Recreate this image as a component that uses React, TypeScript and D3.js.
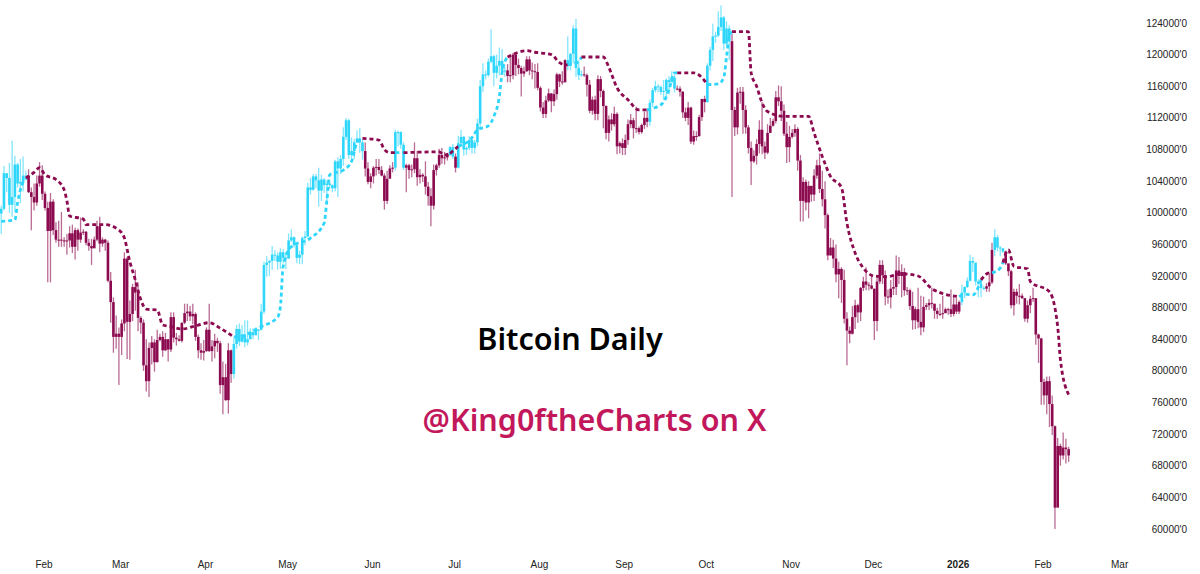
import React from 'react';
import * as d3 from 'd3';

const width = 1200;
const height = 574;

// daily candles, in thousands of dollars, first row starts on 16 Jan 2025
const firstDay = new Date(Date.UTC(2025, 0, 16));
const firstOpen = 99.9;

const closes = [
  100.5, 105.0, 104.4, 101.0, 102.0, 106.1, 103.7, 103.9, 104.7, 104.7, 102.6, 102.0, 101.3, 103.7, 104.7, 102.4,
  100.6, 97.7, 101.4, 97.8, 96.6, 96.6, 96.5, 96.5, 96.5, 97.4, 95.7, 97.8, 96.6, 97.5, 97.6, 96.2, 95.8, 95.5, 96.6, 98.3, 96.1, 96.6, 96.2, 91.4, 88.7, 84.3, 84.7, 84.3,
  86.0, 94.2, 86.2, 87.2, 90.6, 89.9, 86.7, 86.1, 80.7, 78.7, 82.9, 83.6, 81.1, 83.9, 84.3, 82.6, 84.0, 82.7, 86.8, 84.2, 84.0, 83.8, 86.1, 87.3, 87.5, 86.9, 87.2, 84.3, 82.6, 82.3, 82.5,
  85.2, 82.5, 83.1, 83.8, 83.5, 78.2, 79.2, 76.3, 82.6, 79.6, 83.4, 85.3, 83.7, 84.6, 83.6, 84.0, 84.9, 84.5, 85.1, 85.2, 87.5, 93.4, 93.7, 93.9, 94.7, 94.6, 93.8, 95.0, 94.3, 94.2,
  96.5, 96.9, 95.9, 94.3, 94.7, 96.8, 97.0, 103.2, 102.9, 104.6, 104.1, 102.8, 104.2, 103.5, 103.7, 103.5, 103.1, 106.5, 105.6, 106.8, 109.6, 111.7, 107.3, 107.8, 108.9, 109.4, 108.9, 107.8, 105.6, 103.9, 104.6,
  105.7, 105.8, 105.4, 104.7, 101.5, 104.3, 105.6, 105.7, 110.2, 110.2, 108.6, 105.7, 106.0, 105.4, 105.5, 106.9, 104.5, 104.8, 104.6, 103.3, 102.1, 100.9, 105.4, 106.0, 107.3, 106.9, 107.0, 107.3, 108.3, 107.1,
  105.7, 108.8, 109.6, 108.0, 108.2, 109.2, 108.2, 108.9, 111.3, 116.0, 117.5, 117.4, 119.1, 119.8, 117.7, 118.6, 119.2, 117.9, 118.0, 117.3, 117.4, 120.0, 118.7, 118.3, 117.6, 117.9, 119.4, 118.0, 117.9, 117.8, 115.8,
  113.3, 112.5, 114.2, 115.1, 114.1, 115.0, 117.5, 116.6, 116.5, 119.3, 118.7, 120.1, 123.3, 118.3, 117.4, 117.5, 117.4, 116.2, 112.9, 114.3, 112.5, 116.9, 115.4, 113.5, 110.1, 111.8, 111.2, 112.5, 108.4, 108.8, 108.2,
  109.2, 111.2, 111.7, 110.7, 110.7, 110.2, 111.1, 112.0, 111.5, 113.9, 115.5, 116.0, 115.9, 115.3, 115.4, 116.8, 116.5, 117.1, 115.7, 115.7, 115.3, 112.7, 112.0, 113.3, 109.0, 109.7, 109.7, 112.1, 114.4, 114.0,
  118.6, 120.6, 122.3, 122.4, 123.5, 124.7, 121.4, 123.3, 121.7, 113.0, 110.8, 115.2, 115.3, 113.0, 110.8, 108.2, 106.5, 107.2, 108.7, 110.5, 108.4, 107.6, 110.1, 111.0, 111.6, 114.6, 114.1, 112.9, 110.0, 108.3, 109.6,
  110.1, 110.6, 106.6, 101.5, 103.9, 101.3, 103.4, 102.3, 104.7, 106.0, 103.0, 101.7, 99.7, 94.6, 95.6, 94.2, 92.2, 92.9, 91.5, 86.6, 85.1, 84.7, 86.8, 88.3, 87.4, 90.5, 91.3, 90.9, 90.8, 90.4,
  86.3, 91.3, 93.4, 92.1, 89.4, 89.3, 90.4, 90.6, 92.7, 92.0, 92.5, 90.2, 90.2, 88.2, 86.4, 87.8, 86.2, 85.5, 88.1, 88.3, 88.6, 88.5, 87.6, 87.2, 87.2, 87.3, 87.8, 87.8, 87.2, 88.4, 87.5,
  88.7, 89.9, 90.6, 91.4, 93.9, 93.7, 91.3, 91.0, 90.5, 90.4, 90.7, 91.2, 95.3, 96.9, 95.6, 95.5, 95.1, 93.6, 92.6, 88.3, 90.0, 89.5, 89.5, 89.2, 86.6, 88.3, 89.1, 89.2, 84.6, 84.1, 78.6,
  76.9, 78.7, 75.8, 73.0, 62.7, 70.5, 69.3, 70.3, 70.1, 69.3,
];

const highs = [
  100.9, 105.9, 105.0, 106.3, 109.1, 107.2, 106.3, 106.8, 107.1, 105.3, 105.5, 103.2, 103.7, 104.7, 106.4, 106.0,
  102.7, 101.4, 102.5, 101.7, 98.8, 99.0, 100.1, 96.9, 97.3, 98.3, 98.5, 98.1, 98.0, 99.4, 97.9, 97.7, 96.7, 96.7, 97.0, 99.0, 99.5, 96.9, 96.7, 96.5, 92.5, 89.3, 87.0, 85.5,
  86.5, 95.0, 94.4, 88.9, 91.0, 92.8, 91.2, 86.9, 86.5, 84.0, 83.6, 84.4, 84.0, 85.2, 84.7, 85.0, 84.8, 84.0, 87.4, 87.4, 84.8, 84.5, 86.1, 88.5, 88.5, 88.2, 88.5, 87.4, 84.6, 83.5, 83.9,
  85.5, 88.5, 83.9, 84.7, 84.2, 83.8, 81.2, 80.9, 83.5, 82.7, 84.2, 85.8, 86.0, 85.8, 86.4, 86.4, 85.4, 85.4, 85.5, 85.3, 88.5, 93.8, 94.5, 94.0, 95.8, 95.3, 95.0, 95.5, 95.4, 95.0,
  97.4, 97.9, 97.0, 96.0, 95.2, 97.0, 97.7, 103.8, 104.4, 104.9, 104.9, 105.7, 104.8, 104.4, 104.1, 104.1, 103.6, 106.7, 107.0, 107.3, 110.8, 112.0, 111.9, 109.5, 109.3, 110.4, 110.7, 109.3, 108.9, 106.4, 105.0,
  105.9, 106.8, 106.8, 105.9, 105.0, 105.3, 106.0, 106.4, 110.5, 110.4, 110.3, 108.9, 106.2, 106.2, 106.1, 108.9, 107.8, 105.5, 105.0, 106.5, 103.9, 103.1, 106.1, 106.2, 108.1, 108.2, 107.7, 107.5, 108.4, 108.7,
  107.5, 109.7, 110.5, 109.7, 108.4, 109.7, 109.7, 109.2, 111.9, 116.8, 118.9, 118.0, 119.5, 123.2, 120.0, 120.0, 120.9, 120.7, 118.5, 118.8, 119.7, 120.2, 120.3, 119.5, 118.6, 118.5, 119.8, 119.8, 119.0, 118.8, 118.9,
  116.0, 114.0, 114.8, 115.7, 115.1, 115.6, 117.7, 117.6, 117.9, 119.4, 122.3, 120.2, 123.7, 124.5, 119.3, 118.0, 118.5, 117.6, 116.8, 114.7, 114.8, 117.4, 117.3, 115.6, 113.6, 112.3, 112.6, 113.4, 112.7, 109.0, 109.4,
  109.9, 111.8, 112.5, 112.0, 113.4, 110.9, 111.3, 112.8, 113.2, 114.3, 115.8, 116.7, 116.3, 116.1, 116.8, 117.0, 117.3, 117.9, 117.5, 116.1, 116.0, 115.4, 113.3, 114.0, 113.4, 110.4, 110.3, 112.4, 114.4, 114.8,
  118.9, 121.0, 123.9, 122.9, 125.5, 126.2, 124.9, 124.2, 123.7, 122.6, 113.4, 115.8, 115.9, 115.9, 113.6, 111.1, 109.0, 107.9, 109.3, 111.7, 114.0, 109.0, 111.2, 112.0, 111.9, 115.4, 116.1, 116.0, 113.7, 111.5, 111.0,
  110.6, 111.2, 110.8, 107.3, 104.5, 104.2, 104.0, 103.4, 105.5, 106.7, 107.5, 105.3, 104.0, 99.9, 96.8, 96.6, 96.0, 93.8, 93.1, 92.8, 87.4, 85.6, 88.2, 89.0, 88.5, 90.6, 91.9, 93.1, 91.2, 92.0,
  90.4, 92.0, 94.0, 94.0, 92.7, 90.3, 91.5, 92.2, 94.6, 94.4, 93.5, 93.0, 90.6, 90.4, 90.0, 88.1, 90.5, 89.5, 89.4, 88.6, 89.1, 90.5, 88.0, 88.0, 88.5, 89.5, 88.0, 88.0, 90.3, 89.3, 89.2,
  88.9, 90.9, 90.7, 91.8, 94.7, 94.4, 93.5, 91.6, 91.8, 90.7, 91.1, 92.4, 96.2, 97.9, 97.2, 95.8, 95.5, 95.2, 93.4, 92.8, 90.4, 90.4, 91.0, 89.8, 89.2, 88.9, 89.5, 90.5, 89.2, 84.7, 84.2,
  79.0, 79.3, 79.3, 76.9, 73.1, 71.5, 70.8, 72.2, 71.4, 70.4,
];

const lows = [
  97.3, 100.3, 102.6, 100.0, 99.5, 100.1, 103.2, 101.2, 102.7, 104.1, 102.5, 97.8, 100.3, 100.9, 103.3, 101.6,
  100.3, 91.2, 91.2, 97.2, 96.2, 95.7, 95.7, 95.7, 94.7, 95.6, 94.9, 94.1, 95.2, 96.2, 97.2, 95.9, 95.2, 93.4, 95.6, 96.4, 95.0, 95.7, 95.2, 91.2, 86.1, 82.3, 82.8, 78.2,
  82.0, 85.0, 81.5, 81.4, 86.3, 87.6, 85.0, 84.7, 80.0, 77.4, 76.7, 80.8, 79.9, 81.1, 83.7, 81.8, 82.5, 81.2, 82.4, 83.6, 83.2, 83.7, 83.6, 85.9, 86.3, 86.3, 85.9, 83.8, 81.6, 81.4, 81.3,
  82.4, 82.4, 81.2, 81.6, 82.4, 77.1, 74.5, 76.2, 74.6, 78.5, 79.0, 82.8, 83.1, 83.6, 83.0, 83.2, 84.1, 84.0, 84.6, 83.9, 85.1, 87.2, 91.9, 92.0, 92.8, 93.9, 92.8, 92.9, 93.6, 92.9,
  94.2, 96.3, 95.6, 93.6, 93.5, 93.5, 95.9, 96.9, 102.3, 102.8, 103.1, 100.8, 101.5, 102.5, 101.4, 103.0, 102.6, 102.7, 102.0, 104.9, 105.9, 109.2, 106.8, 106.9, 106.8, 108.8, 107.6, 106.7, 104.6, 103.6, 103.1,
  103.7, 104.7, 104.9, 104.6, 100.4, 101.1, 104.5, 105.1, 105.3, 108.4, 108.1, 105.4, 102.6, 104.3, 104.5, 105.0, 103.4, 103.7, 103.9, 102.3, 100.9, 98.3, 100.4, 104.7, 105.7, 106.2, 106.1, 106.6, 107.2, 106.8,
  105.1, 105.6, 108.6, 107.2, 107.3, 107.9, 107.5, 107.5, 108.4, 110.6, 115.3, 116.9, 117.2, 118.9, 116.0, 117.0, 117.4, 117.5, 117.2, 116.5, 116.5, 116.9, 117.3, 117.5, 114.7, 117.2, 117.8, 117.4, 116.9, 115.7, 115.5,
  112.8, 112.0, 112.0, 114.0, 112.7, 113.5, 114.3, 115.9, 116.2, 116.5, 118.0, 118.0, 118.9, 117.2, 116.8, 117.2, 117.2, 114.7, 112.6, 112.4, 111.7, 111.7, 114.6, 110.7, 109.3, 109.0, 110.4, 110.9, 107.4, 107.5, 107.3,
  107.3, 108.6, 110.7, 109.4, 110.1, 109.9, 110.0, 110.6, 110.8, 111.0, 113.4, 115.2, 115.2, 114.9, 114.3, 114.7, 115.0, 116.7, 115.2, 115.5, 114.7, 112.0, 111.6, 111.1, 108.7, 108.6, 109.1, 109.6, 111.6, 112.7,
  113.9, 118.0, 119.2, 121.5, 122.2, 123.0, 120.6, 121.1, 119.3, 102.0, 109.7, 109.9, 113.8, 110.0, 110.0, 107.5, 103.5, 106.3, 106.1, 107.5, 107.4, 106.8, 107.4, 110.3, 110.9, 111.3, 113.5, 111.6, 109.7, 106.3, 106.4,
  109.4, 109.6, 105.3, 98.9, 98.9, 100.3, 99.3, 101.4, 101.5, 104.3, 102.5, 100.8, 98.0, 94.0, 94.6, 93.0, 91.2, 89.2, 88.6, 86.0, 80.7, 83.5, 84.6, 85.3, 86.1, 86.3, 90.1, 90.2, 90.2, 90.3,
  83.9, 85.0, 91.0, 91.0, 88.3, 88.5, 87.9, 89.6, 89.6, 91.0, 89.3, 89.5, 89.6, 87.7, 85.2, 85.3, 85.4, 84.5, 84.9, 87.7, 87.7, 87.9, 86.6, 86.6, 86.9, 86.6, 87.3, 87.1, 86.8, 86.9, 87.2,
  87.2, 88.3, 89.2, 90.5, 91.3, 92.5, 90.8, 89.3, 89.3, 90.2, 90.0, 90.0, 91.0, 94.5, 95.1, 94.5, 94.9, 93.4, 92.0, 87.9, 87.0, 88.5, 88.4, 89.1, 86.2, 86.1, 87.3, 88.7, 83.3, 81.0, 75.7,
  75.7, 74.5, 72.9, 71.9, 60.0, 65.0, 68.0, 68.8, 68.3, 68.5,
];

// trailing stop line: day number from firstDay and level
const trendDays = [
  0, 5, 6, 7, 9, 12, 14, 16, 20, 23, 24, 25, 30, 31, 38, 43, 45, 47, 49, 51, 53, 57, 59, 62, 66, 72, 76, 80, 85,
  86, 95, 101, 102, 103, 106, 113, 118, 119, 120, 125, 128, 130, 132, 138, 140, 142, 144, 147, 160, 162, 164, 167,
  172, 174, 178, 180, 182, 183, 184, 185, 192, 195, 201, 204, 206, 207, 211, 212, 220, 222, 225, 229, 233, 236, 239,
  242, 244, 246, 247, 253, 256, 258, 262, 264, 265, 266, 267, 273, 274, 276, 278, 280, 286, 295, 297, 300, 303, 307,
  309, 312, 315, 319, 324, 328, 335, 340, 343, 350, 352, 355, 358, 361, 362, 365, 366, 368, 370, 375, 376, 383, 386, 387, 390,
];
const trendLevels = [
  98.9, 99.1, 101.3, 102.9, 104.4, 105.1, 105.7, 104.8, 104.2, 102.9, 101.5, 99.6, 99.2, 98.5, 98.5, 97.8, 96.8, 93.8, 91.5, 89.0, 87.8, 87.7, 85.8, 85.6, 85.3, 85.8, 86.1, 85.4, 84.3,
  84.3, 85.6, 86.8, 88.1, 93.2, 95.7, 96.8, 98.7, 101.6, 104.8, 105.4, 106.5, 108.9, 109.4, 109.2, 108.0, 107.6, 107.6, 107.6, 107.7, 107.3, 107.5, 108.4,
  109.5, 110.5, 111.0, 112.2, 114.7, 117.7, 119.1, 119.7, 120.5, 120.3, 120.0, 119.0, 118.7, 118.7, 119.1, 119.7, 119.7, 118.4, 115.8, 114.3, 113.0, 113.0, 113.3,
  114.0, 115.6, 117.7, 117.7, 117.7, 117.1, 116.2, 116.3, 117.1, 119.7, 122.3, 122.9, 122.9, 117.7, 116.0, 113.9, 112.8, 112.2, 112.2, 110.1, 107.1, 104.6, 103.2,
  98.7, 94.9, 93.0, 92.0, 91.9, 92.3, 92.0, 90.4, 89.9, 89.4, 89.7, 89.6, 91.5, 92.4, 92.4, 93.0, 93.7, 95.3, 93.2, 92.9, 91.3, 90.0, 85.6, 81.4, 77.0,
];

// first day of each stretch where the chart flips colour
const flipDays = [0, 10, 85, 133, 144, 148, 164, 166, 167, 185, 207, 213, 237, 247, 258, 267, 351, 360, 363, 367];
const flipIsUp = [true, false, true, false, true, false, true, false, true, false, true, false, true, false, true, false, true, false, true, false];

const yTicks = [60000, 64000, 68000, 72000, 76000, 80000, 84000, 88000, 92000, 96000, 100000, 104000, 108000, 112000, 116000, 120000, 124000];
const monthLabels = ['Feb', 'Mar', 'Apr', 'May', 'Jun', 'Jul', 'Aug', 'Sep', 'Oct', 'Nov', 'Dec', '2026', 'Feb', 'Mar'];
const monthStarts = [
  [2025, 1], [2025, 2], [2025, 3], [2025, 4], [2025, 5], [2025, 6], [2025, 7], [2025, 8], [2025, 9], [2025, 10], [2025, 11], [2026, 0], [2026, 1], [2026, 2],
];

const upColor = '#2fd6fb';
const downColor = '#8c0a4f';

const x = d3
  .scaleUtc()
  .domain([new Date(Date.UTC(2025, 1, 1)), new Date(Date.UTC(2026, 1, 1))])
  .range([44, 1043]);
const y = d3.scaleLinear().domain([60000, 124000]).range([529, 23]);

// candles sit a pixel right of the month labels
const dayX = (i: number) => x(d3.utcDay.offset(firstDay, i)) + 1;

const isUp = (i: number) => flipIsUp[d3.bisectRight(flipDays, i) - 1];

const candles = closes.map((close, i) => ({
  i,
  open: (i === 0 ? firstOpen : closes[i - 1]) * 1000,
  close: close * 1000,
  high: highs[i] * 1000,
  low: lows[i] * 1000,
}));

const trendLine = d3
  .line<number>()
  .x((d) => dayX(trendDays[d]))
  .y((d) => y(trendLevels[d] * 1000))
  .curve(d3.curveMonotoneX);

// one path per stretch, each ends on the knot where the next one starts
const trendPieces = flipDays.map((start, n) => {
  const end = n + 1 < flipDays.length ? flipDays[n + 1] : Infinity;
  const from = d3.bisectRight(trendDays, start) - 1;
  const to = d3.bisectRight(trendDays, end) - 1;
  return { up: flipIsUp[n], d: trendLine(d3.range(from, to + 1)) ?? '' };
});

const App: React.FC = () => {
  return (
    <svg width={width} height={height} style={{ position: 'absolute', left: 0, top: 0, background: '#fff' }}>
      <g>
        {candles.map((c) => {
          const color = isUp(c.i) ? upColor : downColor;
          const cx = dayX(c.i);
          const top = y(Math.max(c.open, c.close));
          const bottom = y(Math.min(c.open, c.close));
          return (
            <g key={c.i}>
              <line x1={cx} x2={cx} y1={y(c.high)} y2={y(c.low)} stroke={color} strokeWidth={1.3} opacity={0.6} />
              <rect x={cx - 1.3} y={top} width={2.6} height={Math.max(bottom - top, 1)} fill={color} />
            </g>
          );
        })}
      </g>
      <g fill="none" strokeWidth={2.8} strokeDasharray="4 3">
        {trendPieces.map((p, i) => (
          <path key={i} d={p.d} stroke={p.up ? upColor : downColor} />
        ))}
      </g>
      <g fontFamily="'Liberation Sans', Arial, sans-serif" fontSize={10} fill="#222">
        {yTicks.map((t) => (
          <text key={t} x={1187} y={y(t) + 3.5} textAnchor="end">
            {`${t}'0`}
          </text>
        ))}
        {monthLabels.map((m, i) => (
          <text
            key={i}
            x={x(new Date(Date.UTC(monthStarts[i][0], monthStarts[i][1], 1)))}
            y={568}
            textAnchor="middle"
            fontWeight={m === '2026' ? 'bold' : 'normal'}
          >
            {m}
          </text>
        ))}
      </g>
      <text x={570} y={350} textAnchor="middle" fontFamily="'Noto Sans', sans-serif" fontWeight={600} fontSize={30.5} fill="#000">
        Bitcoin Daily
      </text>
      <text x={594.5} y={431} textAnchor="middle" fontFamily="'Noto Sans', sans-serif" fontWeight={600} fontSize={30.5} fill="#c2185b">
        @King0ftheCharts on X
      </text>
    </svg>
  );
};

export default App;
